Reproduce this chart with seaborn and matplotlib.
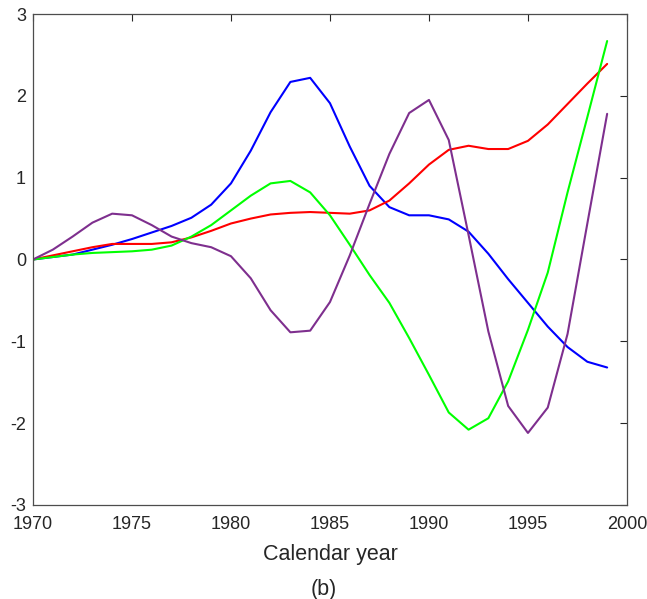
import matplotlib
matplotlib.use("Agg")
import matplotlib.pyplot as plt
import seaborn as sns
import pandas as pd
from matplotlib.ticker import FuncFormatter

years = list(range(1970, 2000))

blue = [0.00, 0.03, 0.06, 0.12, 0.18, 0.25, 0.33, 0.41, 0.51, 0.67,
        0.93, 1.33, 1.80, 2.17, 2.22, 1.91, 1.38, 0.90, 0.64, 0.54,
        0.54, 0.49, 0.34, 0.07, -0.24, -0.53, -0.82, -1.07, -1.25, -1.32]
red = [0.00, 0.05, 0.10, 0.15, 0.19, 0.19, 0.19, 0.21, 0.27, 0.35,
       0.44, 0.50, 0.55, 0.57, 0.58, 0.57, 0.56, 0.60, 0.72, 0.93,
       1.16, 1.34, 1.39, 1.35, 1.35, 1.45, 1.65, 1.90, 2.15, 2.39]
green = [0.00, 0.03, 0.06, 0.08, 0.09, 0.10, 0.12, 0.17, 0.28, 0.42,
         0.60, 0.78, 0.93, 0.96, 0.82, 0.54, 0.18, -0.19, -0.53, -0.96,
         -1.41, -1.87, -2.08, -1.94, -1.49, -0.86, -0.16, 0.82, 1.74, 2.67]
purple = [0.00, 0.12, 0.28, 0.45, 0.56, 0.54, 0.42, 0.28, 0.20, 0.15,
          0.04, -0.23, -0.62, -0.89, -0.87, -0.52, 0.05, 0.68, 1.29, 1.79,
          1.95, 1.46, 0.30, -0.88, -1.79, -2.12, -1.81, -0.91, 0.44, 1.78]

series = {"blue": blue, "red": red, "green": green, "purple": purple}
colors = {"blue": "#0000ff", "red": "#ff0000", "green": "#00ff00", "purple": "#7e2f8e"}

frames = []
for name, vals in series.items():
    frames.append(pd.DataFrame({"year": years, "value": vals, "series": name}))
df = pd.concat(frames, ignore_index=True)

sns.set_style("white")
plt.rcParams["font.family"] = ["Liberation Sans", "DejaVu Sans"]

fig = plt.figure(figsize=(6.47, 5.99), dpi=100)
ax = fig.add_axes([0.051, 0.157, 0.918, 0.8196])

sns.lineplot(data=df, x="year", y="value", hue="series", palette=colors,
             legend=False, ax=ax, linewidth=1.5, sort=False)

ax.set_xlim(1970, 2000)
ax.set_ylim(-3, 3)
ax.set_xticks(range(1970, 2001, 5))
ax.set_yticks(range(-3, 4))
ax.yaxis.set_major_formatter(FuncFormatter(lambda v, p: str(int(round(v)))))
ax.set_xlabel("Calendar year", fontsize=15.5, color="#262626", labelpad=8)
ax.set_ylabel("")
for s in ax.spines.values():
    s.set_visible(True)
    s.set_color("#4d4d4d")
    s.set_linewidth(0.9)
ax.tick_params(direction="in", length=5, width=0.8, color="#262626",
               labelsize=13, labelcolor="#262626", top=True, right=True)
ax.tick_params(axis="x", pad=8)
ax.tick_params(axis="y", pad=5)

fig.text(0.5, 1 - 590 / 599, "(b)", ha="center", va="center", fontsize=15.5, color="#262626")

fig.savefig("out.png", dpi=100)
